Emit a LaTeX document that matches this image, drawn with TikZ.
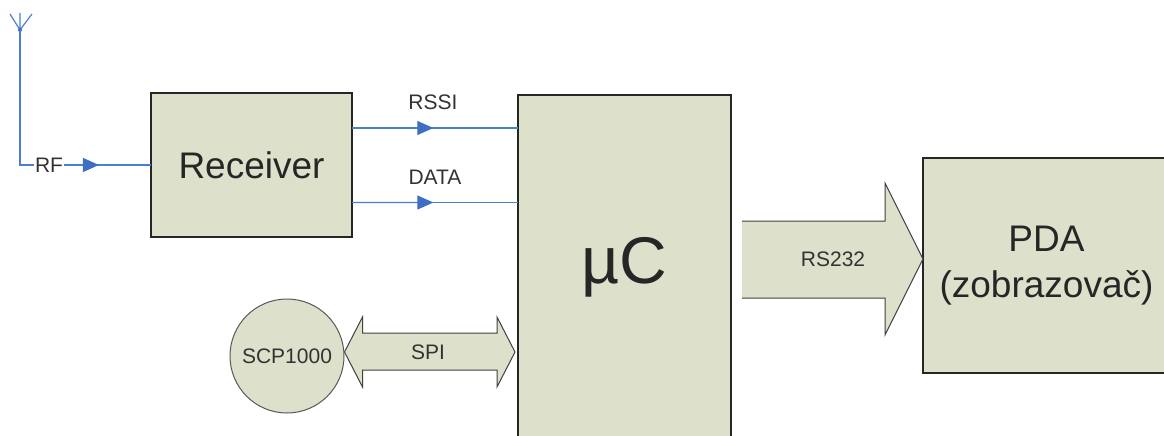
\documentclass[tikz,border=0pt]{standalone}
\usepackage{fontspec}
\setmainfont{Liberation Sans}
\usetikzlibrary{arrows.meta,calc}
\definecolor{boxfill}{HTML}{DDE0CA}
\definecolor{wireblue}{HTML}{4A7FD0}
\definecolor{headblue}{HTML}{3F6EC2}
\begin{document}
\begin{tikzpicture}[x=1pt,y=-1pt,
  box/.style={draw=black!85, fill=boxfill, line width=1.3pt, outer sep=0pt, inner sep=0pt},
  wire/.style={draw=wireblue, line width=1.2pt},
  head/.style={wire, -{Triangle[length=16pt,width=14pt,color=headblue]}},
  lbl/.style={font=\fontsize{21}{24}\selectfont, text=black!80, inner sep=1pt},
  big/.style={font=\fontsize{37}{46}\selectfont, text=black!85, align=center},
  fat/.style={draw=black!75, line width=1pt, line join=miter}]
\useasboundingbox (0,0) rectangle (1164,436);
\clip (0,0) rectangle (1164,436);

% blocks
\node[box, big, minimum width=201pt, minimum height=144pt] (rx) at (251.5,165) {Receiver};
\node[box, minimum width=213pt, minimum height=345pt, font=\fontsize{66}{70}\selectfont, text=black!85] (mc) at (624.5,267.5) {µC};
\node[box, big, minimum width=247pt, minimum height=215pt] (pda) at (1046.5,265.5) {PDA\\(zobrazovač)};
\node[circle, draw=black!65, fill=boxfill, line width=1pt, minimum size=114pt, inner sep=0pt, lbl] (scp) at (287,356) {SCP1000};

% antenna
\coordinate (ant) at (20,30);
\draw[wire] (ant) -- (10,14) (ant) -- (20,13) (ant) -- (32,14);
\fill[headblue] (ant) circle (2pt);
\node[lbl] (rf) at (49,165) {RF};
\draw[wire] (ant) |- (rf.west);
\draw[wire] (rf.east) -- (rx.west);
\draw[head] (rf.east) -- ($(rf.east)!0.4!(rx.west)$);

% RSSI / DATA
\coordinate (rs1) at (rx.east |- 0,128);
\coordinate (rs2) at (mc.west |- 0,128);
\draw[wire] (rs1) -- (rs2);
\draw[head] (rs1) -- ($(rs1)!0.49!(rs2)$);
\node[lbl] (rssi) at (433,102) {RSSI};
\coordinate (da1) at (rx.east |- 0,202.5);
\coordinate (da2) at (mc.west |- 0,202.5);
\draw[wire] (da1) -- (da2);
\draw[head] (da1) -- ($(da1)!0.49!(da2)$);
\node[lbl] (data) at (435,177) {DATA};

% SPI double arrow
\coordinate (spic) at (428,352);
\coordinate (sl) at (scp.east |- spic);
\coordinate (sr) at ($(mc.west |- spic)+(-3,0)$);
\filldraw[fat, fill=boxfill] (sl) -- ++(18,-35) -- ++(0,16) -- ($(sr)+(-18,-19)$) -- ++(0,-16) -- (sr)
  -- ++(-18,35) -- ++(0,-17) -- ($(sl)+(18,18)$) -- ++(0,17) -- cycle;
\node[lbl] (spi) at (spic) {SPI};

% RS232 arrow
\coordinate (rsc) at (833,259);
\coordinate (rt) at (pda.west |- rsc);
\fill[boxfill] (742,221) -- (885,221) -- (885,183) -- (rt) -- (885,335) -- (885,298) -- (742,298) -- cycle;
\draw[fat] (742,221) -- (885,221) -- (885,183) -- (rt) -- (885,335) -- (885,298) -- (742,298);
\node[lbl] (rsl) at (rsc) {RS232};
\end{tikzpicture}
\end{document}
